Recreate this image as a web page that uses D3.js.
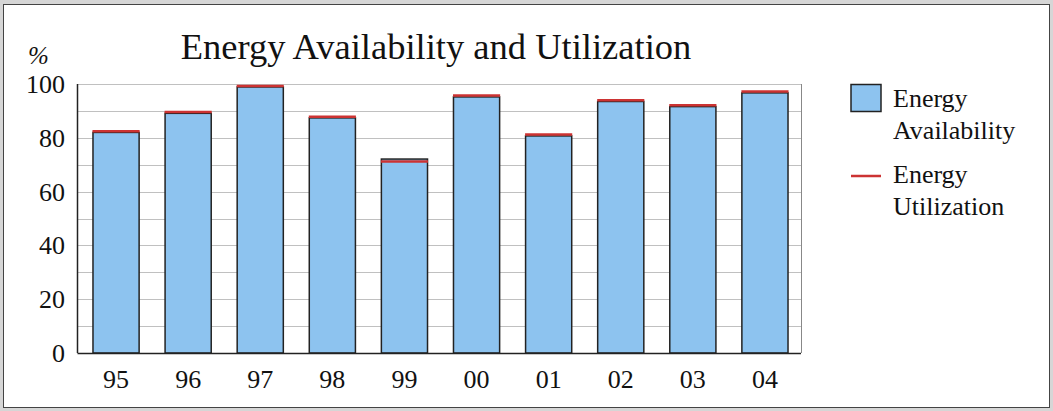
<!DOCTYPE html>
<html lang="en">
<head>
<meta charset="utf-8">
<title>Energy Availability and Utilization</title>
<script src="https://cdn.jsdelivr.net/npm/d3@7"></script>
<style>
    body {margin: 0; background: #d6d6d6;}
    svg {display: block;}
    text {font-family: "Liberation Serif", "DejaVu Serif", serif; fill: #111;}
</style>
</head>
<body>
<script>
// chart data
var years = ["95", "96", "97", "98", "99", "00", "01", "02", "03", "04"];
var availability = [82, 89.1, 98.9, 87.4, 72.1, 95.2, 80.7, 93.5, 91.6, 96.7];
var utilization = [82.4, 89.6, 99.3, 87.8, 71.2, 95.7, 81.2, 94.0, 92.1, 97.2];
var yTicks = [0, 20, 40, 60, 80, 100];
var gridTicks = [10, 20, 30, 40, 50, 60, 70, 80, 90, 100];
var legendItems = [["Energy", "Availability"], ["Energy", "Utilization"]];

var w = 1053, h = 411;
var svg = d3.select("body").append("svg")
    .attr("width", w)
    .attr("height", h);

// frame
svg.append("rect")
    .attr("x", 3.5).attr("y", 4.5)
    .attr("width", 1046).attr("height", 403)
    .attr("fill", "white")
    .attr("stroke", "#444");

var plotLeft = 77.5, plotRight = 801, plotTop = 84, plotBottom = 353;

var x = d3.scaleBand()
    .domain(years)
    .range([80, 801])
    .paddingInner(0.36)
    .paddingOuter(0.18);

var y = d3.scaleLinear()
    .domain([0, 100])
    .range([plotBottom, plotTop]);

// gridlines
svg.append("g").selectAll("line")
    .data(gridTicks)
    .enter().append("line")
    .attr("x1", plotLeft).attr("x2", plotRight)
    .attr("y1", function(d) {return Math.round(y(d)) + 0.5;})
    .attr("y2", function(d) {return Math.round(y(d)) + 0.5;})
    .attr("stroke", "#c0c0c0")
    .attr("stroke-width", 1.2);

// right border of plot
svg.append("line")
    .attr("x1", plotRight + 0.5).attr("x2", plotRight + 0.5)
    .attr("y1", plotTop).attr("y2", plotBottom)
    .attr("stroke", "#888");

// bars
svg.append("g").selectAll("rect")
    .data(availability)
    .enter().append("rect")
    .attr("x", function(d, i) {return x(years[i]);})
    .attr("y", function(d) {return y(d);})
    .attr("width", x.bandwidth())
    .attr("height", function(d) {return plotBottom - y(d);})
    .attr("fill", "#8dc3ef")
    .attr("stroke", "#222")
    .attr("stroke-width", 1.5);

// utilization markers
svg.append("g").selectAll("line")
    .data(utilization)
    .enter().append("line")
    .attr("x1", function(d, i) {return x(years[i]) - 0.5;})
    .attr("x2", function(d, i) {return x(years[i]) + x.bandwidth() + 0.5;})
    .attr("y1", function(d) {return y(d);})
    .attr("y2", function(d) {return y(d);})
    .attr("stroke", "#cc3333")
    .attr("stroke-width", 2.5);

// axes lines
svg.append("line")
    .attr("x1", plotLeft).attr("x2", plotLeft)
    .attr("y1", plotTop).attr("y2", plotBottom)
    .attr("stroke", "#222").attr("stroke-width", 1.5);
svg.append("line")
    .attr("x1", plotLeft).attr("x2", plotRight)
    .attr("y1", plotBottom + 0.5).attr("y2", plotBottom + 0.5)
    .attr("stroke", "#222").attr("stroke-width", 1.5);

// y tick labels
svg.append("g").selectAll("text")
    .data(yTicks)
    .enter().append("text")
    .attr("x", 65)
    .attr("y", function(d) {return y(d) + 9;})
    .attr("text-anchor", "end")
    .style("font-size", "26px")
    .text(function(d) {return d;});

// x tick labels
svg.append("g").selectAll("text")
    .data(years)
    .enter().append("text")
    .attr("x", function(d) {return x(d) + x.bandwidth() / 2;})
    .attr("y", 388)
    .attr("text-anchor", "middle")
    .style("font-size", "26px")
    .text(function(d) {return d;});

// unit label
svg.append("text")
    .attr("x", 28).attr("y", 64)
    .style("font-size", "25px")
    .style("font-style", "italic")
    .text("%");

// title
svg.append("text")
    .attr("x", 436).attr("y", 59)
    .attr("text-anchor", "middle")
    .style("font-size", "36.5px")
    .text("Energy Availability and Utilization");

// legend
svg.append("rect")
    .attr("x", 851).attr("y", 84.5)
    .attr("width", 30).attr("height", 27)
    .attr("fill", "#8dc3ef")
    .attr("stroke", "#222")
    .attr("stroke-width", 1.5);
svg.append("line")
    .attr("x1", 851).attr("x2", 881)
    .attr("y1", 176).attr("y2", 176)
    .attr("stroke", "#cc3333")
    .attr("stroke-width", 2.5);

var legendY = [107, 183];
legendItems.forEach(function(item, i) {
    item.forEach(function(line, j) {
        svg.append("text")
            .attr("x", 893)
            .attr("y", legendY[i] + j * 32)
            .style("font-size", "26px")
            .text(line);
    });
});
</script>
</body>
</html>
